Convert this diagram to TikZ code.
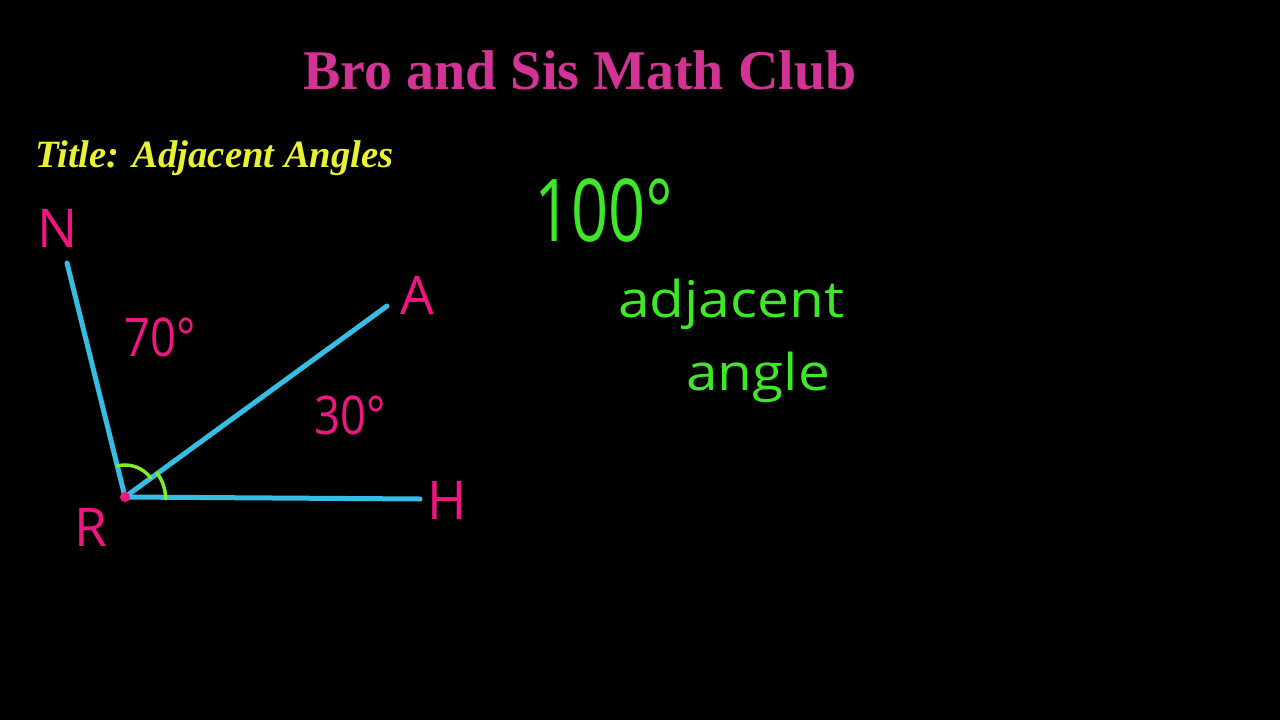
\documentclass[tikz,border=0pt]{standalone}
\usepackage{fontspec}
\setmainfont{Liberation Serif}
\newfontfamily\handfont{Open Sans}

\definecolor{clubpink}{RGB}{210,52,150}
\definecolor{titleyellow}{RGB}{232,242,50}
\definecolor{raycyan}{RGB}{52,190,228}
\definecolor{labelpink}{RGB}{240,22,130}
\definecolor{notegreen}{RGB}{62,232,40}
\definecolor{arcgreen}{RGB}{130,236,40}

\begin{document}
\begin{tikzpicture}[x=0.75pt,y=0.75pt,yscale=-1,xscale=1,
    ray/.style={draw=raycyan, line width=3.75pt, line cap=round},
    anglearc/.style={draw=arcgreen, line width=2.6pt, line cap=round},
    ptlabel/.style={text=labelpink, inner sep=0pt, font=\handfont\fontsize{40}{40}\selectfont},
    note/.style={text=notegreen, inner sep=0pt, font=\handfont\fontsize{38}{38}\selectfont}]

    % Background
    \fill[black] (0,0) rectangle (1280,720);
    \useasboundingbox (0,0) rectangle (1280,720);

    % Titles
    \node[anchor=base, text=clubpink, inner sep=0pt, font=\bfseries\fontsize{42}{42}\selectfont] (club) at (580,90) {Bro and Sis Math Club};
    \node[anchor=base west, text=titleyellow, inner sep=0pt, font=\bfseries\itshape\fontsize{29}{29}\selectfont] (title) at (35,168) {Title: Adjacent Angles};

    % Points
    \coordinate (R) at (125,497);
    \coordinate (Nend) at (67,263);
    \coordinate (Aend) at (387,306);
    \coordinate (Hend) at (420,499);

    % Rays
    \draw[ray] (R) -- (Nend);
    \draw[ray] (R) -- (Aend);
    \draw[ray] (R) -- (Hend);

    % Arcs
    \draw[anglearc] (R) ++(-104:32) arc[start angle=-104, end angle=-37, radius=32];
    \draw[anglearc] (R) ++(-37:40) arc[start angle=-37, end angle=0, radius=43];
    \fill[labelpink] (R) circle[radius=5];

    % Labels
    \node[ptlabel] (N) at (58,228) {N};
    \node[ptlabel] (A) at (417,295) {A};
    \node[ptlabel] (Rlabel) at (91,527) {R};
    \node[ptlabel] (H) at (447,500) {H};
    \node[ptlabel] (seventy) at (160,337) {\scalebox{0.85}[1]{70°}};
    \node[ptlabel] (thirty) at (350,415) {\scalebox{0.85}[1]{30°}};

    % Notes
    \node[note, font=\handfont\fontsize{65}{65}\selectfont] (hundred) at (604,211) {\scalebox{0.75}[1]{100°}};
    \node[note, anchor=base west] (adj) at (618,317) {\scalebox{1.12}[1]{adjacent}};
    \node[note, anchor=base west] (ang) at (686,390) {\scalebox{1.12}[1]{angle}};

\end{tikzpicture}
\end{document}
